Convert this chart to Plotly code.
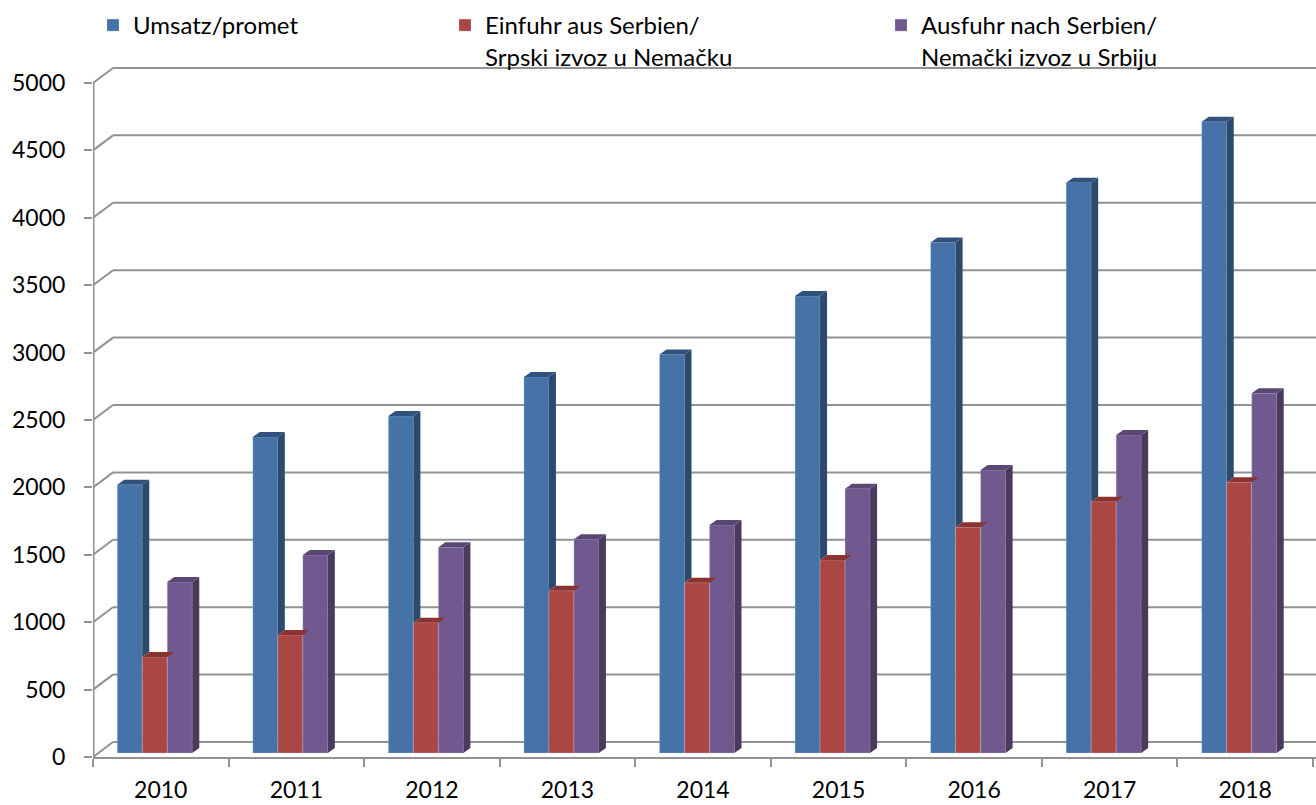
import plotly.graph_objects as go

# ---------------- data ----------------
years = ['2010', '2011', '2012', '2013', '2014', '2015', '2016', '2017', '2018']
umsatz = [1990, 2345, 2500, 2790, 2957, 3390, 3786, 4231, 4683]
einfuhr = [712, 875, 967, 1204, 1263, 1432, 1674, 1864, 2008]
ausfuhr = [1268, 1469, 1526, 1585, 1691, 1961, 2099, 2359, 2668]
series_names = ['Umsatz/promet',
                'Einfuhr aus Serbien/<br>Srpski izvoz u Nemačku',
                'Ausfuhr nach Serbien/<br>Nemački izvoz u Srbiju']
y_ticks = [0, 500, 1000, 1500, 2000, 2500, 3000, 3500, 4000, 4500, 5000]

# ---------------- geometry / style ----------------
W, H = 1316, 805
AX_L, AX_R = 93, 1313          # front x-axis pixel extent
Y0_PX, YMAX_PX = 757, 82.7     # pixel of 0 and 5000 on the front axis
YMAX = 5000
ppc = (AX_R - AX_L) / len(years)       # px per category
ppu = (Y0_PX - YMAX_PX) / YMAX         # px per value unit
X0 = -0.5
X1 = len(years) - 0.5 + 3 / ppc
YTOP = 5200

wall_dx, wall_dy = 20 / ppc, 15 / ppu      # depth of back wall
bar_dx, bar_dy = 7 / ppc, 5 / ppu          # bar depth
bar_base = 4 / ppu                          # bar plane lift
bar_w = 25 / ppc
bar_off0 = -43.5 / ppc

front_col = ['#4572A7', '#AA4643', '#71588F']
side_col = ['#2C4A6E', '#7B2F2D', '#4A3A5E']
top_col = ['#30527C', '#8A3330', '#5B4774']
grid_col = '#929292'
FONT = 'Lato'

values = [umsatz, einfuhr, ausfuhr]
xs = list(range(len(years)))

fig = go.Figure()

legends = ['legend', 'legend2', 'legend3']
for i, vals in enumerate(values):
    fig.add_trace(go.Bar(
        x=xs, y=vals, base=bar_base, width=bar_w, offset=bar_off0 + i * bar_w,
        name=series_names[i], legend=legends[i],
        marker=dict(color=front_col[i], line=dict(color='rgba(200,215,235,0.35)', width=0.8)),
        hoverinfo='skip'))

# 3D faces (top + visible side) drawn through data axes
for i, vals in enumerate(values):
    for j, v in enumerate(vals):
        xl = j + bar_off0 + i * bar_w
        xr = xl + bar_w
        top = bar_base + v
        lower = bar_base
        if i + 1 < len(values):
            lower = max(lower, bar_base + values[i + 1][j])
        if lower < top:
            fig.add_trace(go.Scatter(
                x=[xr, xr, xr + bar_dx, xr + bar_dx, xr],
                y=[lower, top, top + bar_dy, lower + bar_dy, lower],
                mode='lines', fill='toself', fillcolor=side_col[i],
                line=dict(width=0, color=side_col[i]), hoverinfo='skip', showlegend=False))
        fig.add_trace(go.Scatter(
            x=[xl, xl + bar_dx, xr + bar_dx, xr, xl],
            y=[top, top + bar_dy, top + bar_dy, top, top],
            mode='lines', fill='toself', fillcolor=top_col[i],
            line=dict(width=0, color=top_col[i]), hoverinfo='skip', showlegend=False))

# back wall gridlines with diagonal connectors
shapes = []
for t in y_ticks:
    shapes.append(dict(type='line', xref='x', yref='y', x0=X0, y0=t, x1=X0 + wall_dx, y1=t + wall_dy,
                       line=dict(color=grid_col, width=2), layer='below'))
    shapes.append(dict(type='line', xref='x', yref='y', x0=X0 + wall_dx, y0=t + wall_dy, x1=X1 + wall_dx,
                       y1=t + wall_dy, line=dict(color=grid_col, width=2), layer='below'))
# front left vertical axis line
shapes.append(dict(type='line', xref='x', yref='y', x0=X0, y0=0, x1=X0, y1=YMAX,
                   line=dict(color=grid_col, width=3), layer='below'))

leg_common = dict(xref='container', yref='container', xanchor='left', yanchor='top',
                  orientation='h', valign='top', font=dict(family=FONT, size=24, color='black'),
                  bgcolor='rgba(0,0,0,0)')

fig.update_layout(
    width=W, height=H,
    margin=dict(l=AX_L, r=0, b=H - Y0_PX, t=Y0_PX - YTOP * ppu, pad=0, autoexpand=False),
    paper_bgcolor='white', plot_bgcolor='white',
    barmode='overlay',
    shapes=shapes,
    font=dict(family=FONT, size=23, color='black'),
    xaxis=dict(range=[X0, X1], tickmode='array', tickvals=xs, ticktext=years, ticks='',
               showgrid=False, zeroline=False, showline=True, linecolor=grid_col, linewidth=2,
               ticklabelstandoff=11, automargin=False,
               minor=dict(tickmode='linear', tick0=-0.5, dtick=1, ticks='outside', ticklen=8,
                          tickcolor=grid_col, tickwidth=1.5, showgrid=False),
               tickfont=dict(family=FONT, size=23, color='black')),
    yaxis=dict(range=[0, YTOP], tickmode='array', tickvals=y_ticks, ticks='outside', ticklen=8,
               tickcolor=grid_col, tickwidth=1.5, showgrid=False, zeroline=False, showline=False,
               ticklabelstandoff=14, automargin=False,
               tickfont=dict(family=FONT, size=23, color='black')),
    legend=dict(x=93 / W, y=1 - 3 / H, **leg_common),
    legend2=dict(x=445 / W, y=1 - 3 / H, **leg_common),
    legend3=dict(x=881 / W, y=1 - 3 / H, **leg_common),
)

fig.write_html('out.html', config={'displayModeBar': False},
               post_script="document.body.style.margin='0';document.body.style.overflow='hidden';")
